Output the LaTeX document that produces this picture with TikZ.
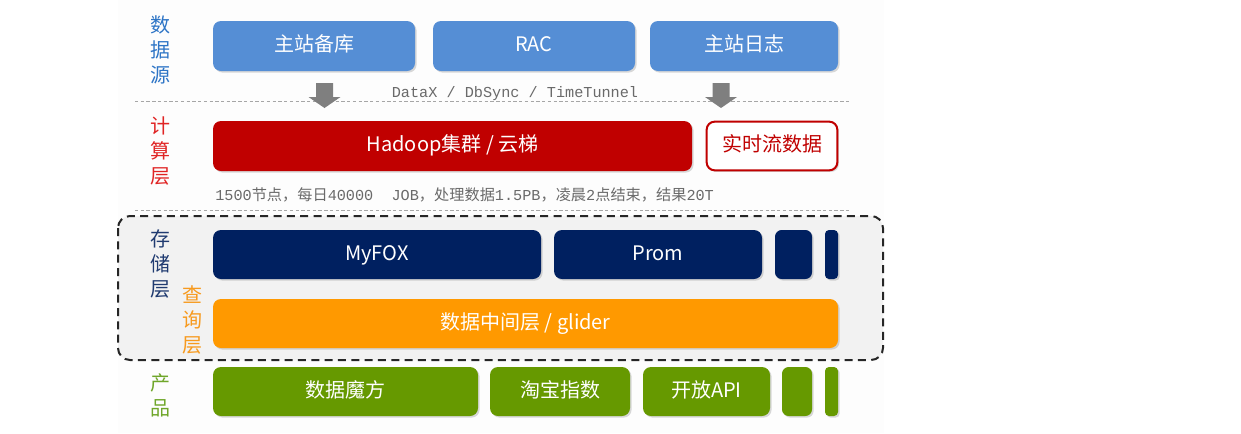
\documentclass[tikz,border=0pt]{standalone}
\usepackage{fontspec}
\setmainfont{Noto Sans CJK SC}
\setmonofont{Liberation Mono}
\usetikzlibrary{shadows}
\definecolor{srcblue}{HTML}{558ED5}
\definecolor{hadred}{HTML}{C00000}
\definecolor{stonavy}{HTML}{002060}
\definecolor{qorange}{HTML}{FF9900}
\definecolor{pgreen}{HTML}{669900}
\definecolor{lblblue}{HTML}{2E75C6}
\definecolor{lblred}{HTML}{E02424}
\definecolor{lblnavy}{HTML}{1F3A70}
\definecolor{lblorange}{HTML}{F79A1E}
\definecolor{lblgreen}{HTML}{6FA62A}
\definecolor{arrgray}{HTML}{7F7F7F}
\definecolor{txtgray}{HTML}{6A6A6A}
\definecolor{panelgray}{HTML}{F2F2F2}
\definecolor{pagegray}{HTML}{FDFDFD}
\tikzset{
  box/.style={rounded corners=6pt, minimum height=37.5pt, inner sep=0pt,
    text height=11pt, text depth=2.5pt,
    text=white, font=\fontsize{15pt}{18pt}\selectfont,
    drop shadow={shadow xshift=1.2pt, shadow yshift=-1.2pt, opacity=0.3}},
  lbl/.style={align=center, inner sep=0pt, font=\fontsize{15pt}{18.75pt}\selectfont},
  blockarr/.pic={\fill[arrgray] (-8.5,0) -- (8.5,0) -- (8.5,14) -- (16,14) -- (0,25) -- (-16,14) -- (-8.5,14) -- cycle;},
  sepline/.style={draw=black!35, dash pattern=on 2.5pt off 1.8pt, line width=0.6pt},
}
\begin{document}
\begin{tikzpicture}[x=0.75pt,y=-0.75pt]
\useasboundingbox (0,0) rectangle (1241,433);
\fill[pagegray] (118,0) rectangle (884,433);
% separators
\draw[sepline] (135,101) -- (850,101);
\draw[sepline] (135,210) -- (850,210);
% panel
\draw[black!85, line width=1.5pt, dash pattern=on 6pt off 4pt, rounded corners=9pt, fill=panelgray] (118,216) rectangle (883,360);
% data sources
\node[box, fill=srcblue, minimum width=151.5pt] (zzbk) at (314,46) {主站备库};
\node[box, fill=srcblue, minimum width=151.5pt] (rac) at (534,46) {RAC};
\node[box, fill=srcblue, minimum width=141pt] (zzrz) at (744,46) {主站日志};
\pic at (324.5,83) {blockarr};
\pic at (721,83) {blockarr};
\node[font=\ttfamily\fontsize{11.4pt}{13pt}\selectfont, text=txtgray, inner sep=0pt] (sync) at (515,94) {DataX / DbSync / TimeTunnel};
% compute
\node[box, fill=hadred, minimum width=359.25pt] (hadoop) at (452.5,146) {Hadoop集群 / 云梯};
\node[box, fill=white, draw=hadred, line width=1.5pt, text=hadred, minimum width=98pt, minimum height=36.5pt] (rt) at (772,146) {实时流数据};
\node[anchor=west, inner sep=0pt, text=txtgray, font=\fontsize{11.4pt}{13pt}\selectfont] (stat) at (215,195) {\texttt{1500}节点，每日\texttt{40000\ \ JOB}，处理数据\texttt{1.5PB}，凌晨\texttt{2}点结束，结果\texttt{20T}};
% storage
\node[box, fill=stonavy, minimum width=246pt, minimum height=36.75pt] (myfox) at (377,254.5) {MyFOX};
\node[box, fill=stonavy, minimum width=156pt, minimum height=36.75pt] (prom) at (658,254.5) {Prom};
\node[box, fill=stonavy, minimum width=27.75pt, minimum height=36.75pt, rounded corners=5pt] (s1) at (793.5,254.5) {};
\node[box, fill=stonavy, minimum width=9.75pt, minimum height=36.75pt, rounded corners=3pt] (s2) at (831.5,254.5) {};
% query
\node[box, fill=qorange, minimum width=468.75pt, minimum height=36.75pt] (glider) at (525.5,323.5) {数据中间层 / glider};
% products
\node[box, fill=pgreen, minimum width=198.75pt, minimum height=36.75pt] (mofang) at (345.5,391.5) {数据魔方};
\node[box, fill=pgreen, minimum width=105pt, minimum height=36.75pt] (tbzs) at (560,391.5) {淘宝指数};
\node[box, fill=pgreen, minimum width=95.25pt, minimum height=36.75pt] (api) at (706.5,391.5) {开放API};
\node[box, fill=pgreen, minimum width=22.5pt, minimum height=36.75pt, rounded corners=5pt] (g1) at (797,391.5) {};
\node[box, fill=pgreen, minimum width=9.75pt, minimum height=36.75pt, rounded corners=3pt] (g2) at (831.5,391.5) {};
% layer labels
\node[lbl, text=lblblue] (l1) at (160,50) {数\\据\\源};
\node[lbl, text=lblred] (l2) at (160,151) {计\\算\\层};
\node[lbl, text=lblnavy] (l3) at (160,264) {存\\储\\层};
\node[lbl, text=lblorange] (l4) at (192,320) {查\\询\\层};
\node[lbl, text=lblgreen] (l5) at (160,395.5) {产\\品};
\end{tikzpicture}
\end{document}
